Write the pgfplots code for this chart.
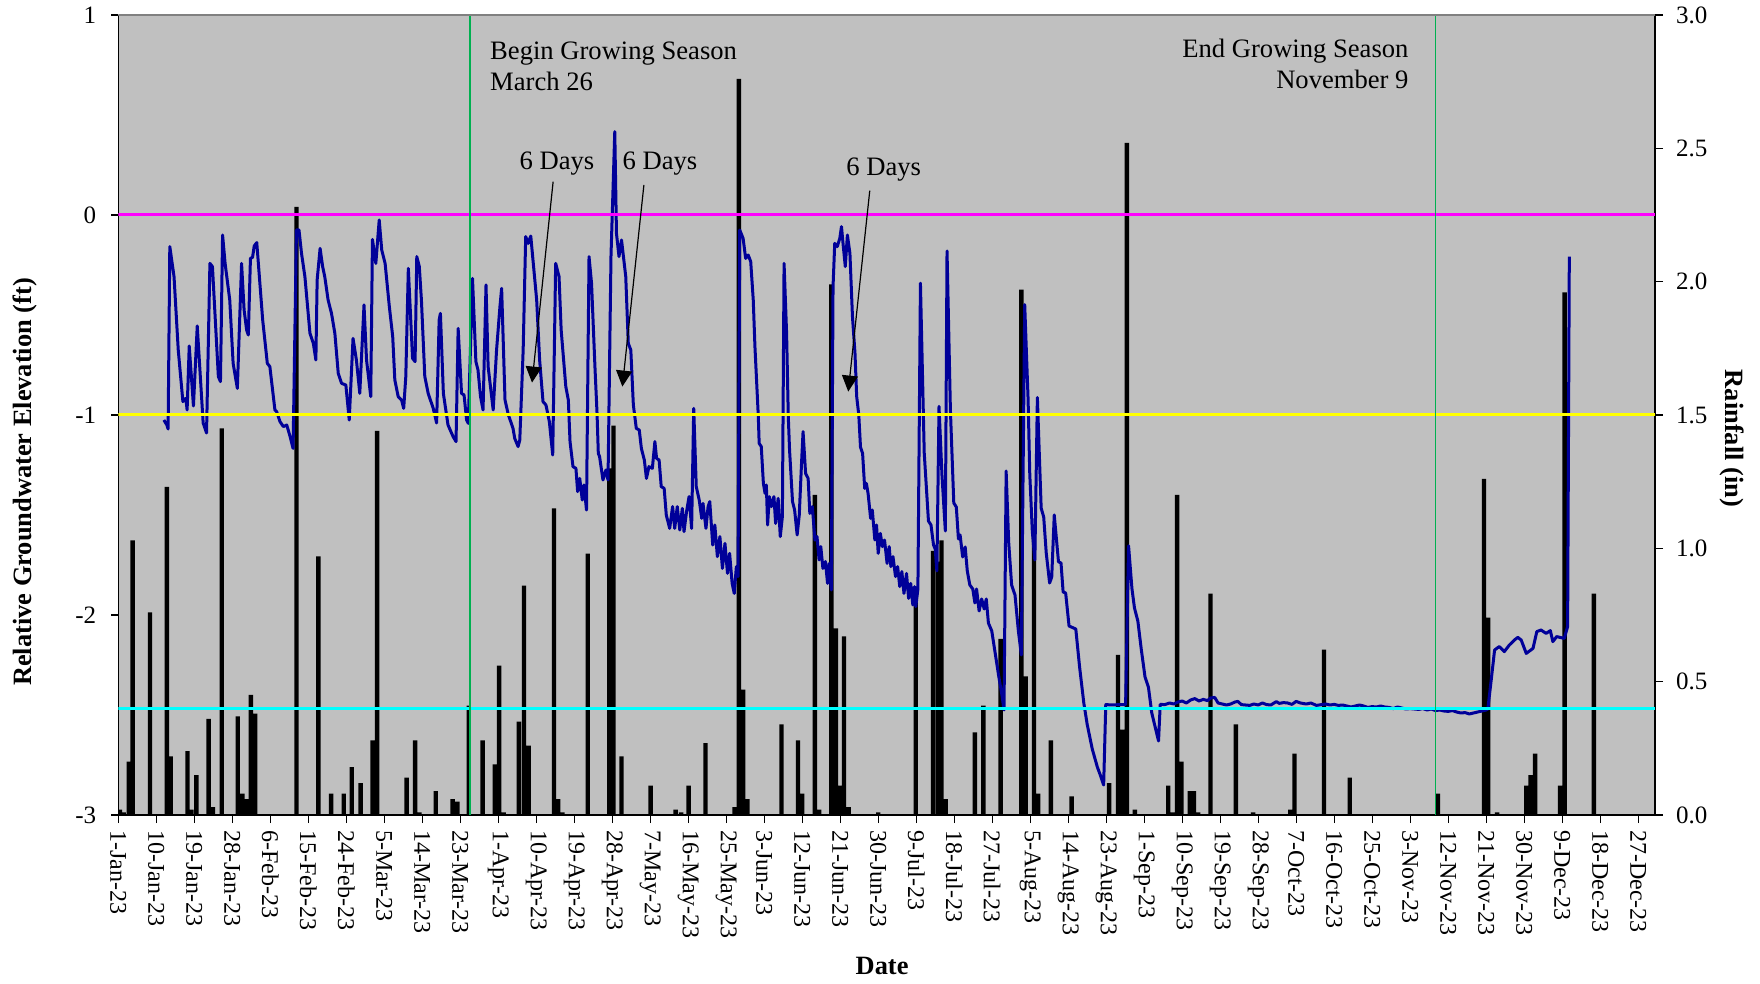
\documentclass[border=0pt]{standalone}
\usepackage{pgfplots}
\pgfplotsset{compat=1.18}
\usepackage{fontspec}
\setmainfont{Liberation Serif}
\usetikzlibrary{arrows.meta}
\definecolor{bggray}{RGB}{192,192,192}
\definecolor{framegray}{RGB}{128,128,128}
\definecolor{gwblue}{RGB}{0,0,153}
\definecolor{xlgreen}{RGB}{0,176,80}
\definecolor{refmag}{RGB}{255,0,255}
\definecolor{refyel}{RGB}{255,255,0}
\definecolor{refcya}{RGB}{0,255,255}
\begin{document}
\begin{tikzpicture}
\useasboundingbox (-59.15pt,-84.5pt) rectangle (820.85pt,407.5pt);
\pgfplotsset{
  every axis/.append style={
    scale only axis, width=768.35pt, height=400pt,
    xmin=0, xmax=364,
    /pgf/number format/assume math mode=true,
    tick align=outside,
    axis line style={black, line width=0.6pt},
    tick style={black, line width=0.6pt},
  }
}
% ---------------- rainfall (right axis) ----------------
\begin{axis}[
  axis background/.style={fill=bggray},
  axis x line*=bottom, axis y line*=right,
  ymin=0, ymax=3,
  ytick={0,0.5,1,1.5,2,2.5,3},
  yticklabel style={/pgf/number format/fixed, /pgf/number format/fixed zerofill, /pgf/number format/precision=1, font=\fontsize{12.5}{14}\selectfont, xshift=3pt},
  major tick length=4pt,
  xtick={0,9,...,360},
  xticklabels={1-Jan-23,10-Jan-23,19-Jan-23,28-Jan-23,6-Feb-23,15-Feb-23,24-Feb-23,5-Mar-23,14-Mar-23,23-Mar-23,1-Apr-23,10-Apr-23,19-Apr-23,28-Apr-23,7-May-23,16-May-23,25-May-23,3-Jun-23,12-Jun-23,21-Jun-23,30-Jun-23,9-Jul-23,18-Jul-23,27-Jul-23,5-Aug-23,14-Aug-23,23-Aug-23,1-Sep-23,10-Sep-23,19-Sep-23,28-Sep-23,7-Oct-23,16-Oct-23,25-Oct-23,3-Nov-23,12-Nov-23,21-Nov-23,30-Nov-23,9-Dec-23,18-Dec-23,27-Dec-23},
  xticklabel style={rotate=-90, anchor=west, font=\fontsize{12}{14}\selectfont},
]
\addplot[ybar, bar width=2.2pt, bar shift=0pt, fill=black, draw=none] coordinates {
(0.4,0.02)(1.3,0.01)(2.5,0.20)(3.4,1.03)(7.5,0.76)(11.5,1.23)(12.4,0.22)(16.4,0.24)(17.3,0.02)(18.5,0.15)
(21.4,0.36)(22.4,0.03)(24.5,1.45)(28.3,0.37)(29.4,0.08)(30.4,0.06)(31.4,0.45)(32.4,0.38)(42.2,2.28)(47.4,0.97)
(50.4,0.08)(53.4,0.08)(55.3,0.18)(57.4,0.12)(60.2,0.28)(61.3,1.44)(68.3,0.14)(70.3,0.28)(71.3,0.01)(75.2,0.09)
(79.2,0.06)(80.3,0.05)(83.0,0.41)(86.3,0.28)(89.2,0.19)(90.2,0.56)(91.3,0.01)(94.9,0.35)(96.1,0.86)(97.2,0.26)
(103.2,1.15)(104.2,0.06)(105.2,0.01)(111.2,0.98)(116.3,1.30)(117.3,1.46)(119.2,0.22)(126.1,0.11)(132.0,0.02)(133.3,0.01)
(135.1,0.11)(139.1,0.27)(146.0,0.03)(147.0,2.76)(148.0,0.47)(149.0,0.06)(157.1,0.34)(161.0,0.28)(162.0,0.08)(165.0,1.20)
(166.0,0.02)(168.9,1.99)(170.0,0.70)(171.0,0.11)(171.9,0.67)(173.0,0.03)(180.0,0.01)(188.9,0.82)(193.0,0.99)(194.2,0.95)
(195.0,1.03)(196.0,0.06)(202.9,0.31)(204.9,0.41)(209.0,0.66)(213.9,1.97)(214.9,0.52)(216.9,1.06)(217.9,0.08)(220.9,0.28)
(225.8,0.07)(234.7,0.12)(236.8,0.60)(237.8,0.32)(238.9,2.52)(240.8,0.02)(248.7,0.11)(249.7,0.01)(250.8,1.20)(251.8,0.20)
(253.8,0.09)(254.8,0.09)(255.8,0.01)(258.7,0.83)(264.7,0.34)(268.8,0.01)(277.6,0.02)(278.6,0.23)(285.6,0.62)(291.7,0.14)
(312.6,0.08)(323.5,1.26)(324.5,0.74)(326.6,0.01)(333.5,0.11)(334.5,0.15)(335.6,0.23)(341.5,0.11)(342.6,1.96)(349.5,0.83)
};
\end{axis}
% ---------------- groundwater (left axis) ----------------
\begin{axis}[
  axis x line=none, axis y line*=left,
  ymin=-3, ymax=1,
  ytick={-3,-2,-1,0,1},
  major tick length=3.5pt,
  yticklabel style={font=\fontsize{12.5}{14}\selectfont, xshift=-4pt},
]
\addplot[gwblue, line width=1.5pt, line join=round] coordinates {
(10.8,-1.025)(11.5,-1.05)(11.8,-1.07)(12.2,-0.158)(13.2,-0.308)(14.2,-0.675)(15.3,-0.933)(16.0,-0.917)(16.3,-0.975)(16.8,-0.655)
(17.8,-0.955)(18.7,-0.555)(20.1,-1.04)(20.9,-1.09)(21.7,-0.242)(22.3,-0.258)(23.7,-0.808)(24.2,-0.833)(24.7,-0.1)(25.3,-0.242)
(26.4,-0.425)(27.2,-0.742)(28.2,-0.867)(29.2,-0.242)(29.8,-0.475)(30.4,-0.575)(30.8,-0.6)(31.3,-0.217)(31.8,-0.212)(32.2,-0.155)
(32.8,-0.138)(34.2,-0.525)(35.3,-0.742)(35.9,-0.758)(37.1,-0.975)(37.5,-0.983)(38.3,-1.033)(39.1,-1.058)(39.9,-1.05)(40.7,-1.108)
(41.4,-1.167)(42.2,-0.075)(42.8,-0.075)(43.4,-0.192)(44.2,-0.308)(45.4,-0.592)(46.2,-0.642)(46.8,-0.725)(47.1,-0.325)(47.8,-0.167)
(48.4,-0.258)(48.9,-0.308)(49.7,-0.425)(50.5,-0.492)(51.3,-0.592)(52.1,-0.792)(52.9,-0.842)(53.9,-0.85)(54.7,-1.025)(55.6,-0.617)
(56.4,-0.725)(57.2,-0.892)(58.2,-0.45)(58.8,-0.725)(59.8,-0.908)(60.2,-0.122)(61.0,-0.242)(61.8,-0.025)(62.4,-0.175)(63.2,-0.242)
(64.2,-0.458)(65.0,-0.608)(65.5,-0.825)(66.3,-0.908)(67.1,-0.925)(67.6,-0.967)(68.1,-0.808)(68.7,-0.267)(69.7,-0.717)(70.3,-0.733)
(70.7,-0.208)(71.3,-0.258)(71.8,-0.425)(72.6,-0.808)(73.4,-0.892)(74.6,-0.967)(75.4,-1.04)(76.0,-0.525)(76.3,-0.492)(77.0,-0.892)
(78.1,-1.05)(79.3,-1.108)(80.0,-1.133)(80.5,-0.567)(81.3,-0.892)(81.9,-0.9)(82.5,-1.025)(82.9,-1.042)(83.9,-0.317)(84.7,-0.733)
(85.2,-0.775)(85.8,-0.908)(86.4,-0.975)(87.1,-0.35)(87.6,-0.758)(88.8,-0.975)(89.6,-0.675)(90.4,-0.458)(90.8,-0.367)(91.6,-0.925)
(92.4,-1.0)(93.1,-1.042)(93.5,-1.067)(93.9,-1.117)(94.7,-1.158)(95.1,-1.125)(95.9,-0.675)(96.5,-0.108)(97.1,-0.142)(97.7,-0.105)
(99.1,-0.425)(99.8,-0.725)(100.6,-0.933)(101.3,-0.95)(102.1,-1.033)(102.9,-1.2)(103.6,-0.242)(104.4,-0.308)(104.9,-0.575)(106.0,-0.858)
(106.6,-0.925)(107.0,-1.133)(107.7,-1.258)(108.4,-1.267)(108.8,-1.383)(109.3,-1.317)(109.9,-1.425)(110.3,-1.35)(110.9,-1.475)(111.5,-0.208)
(112.1,-0.342)(112.9,-0.758)(113.4,-0.992)(113.7,-1.192)(114.0,-1.208)(114.8,-1.325)(115.5,-1.275)(116.0,-1.325)(116.7,-0.208)(117.6,0.417)
(118.0,-0.092)(118.6,-0.208)(119.2,-0.125)(120.2,-0.308)(120.8,-0.642)(121.4,-0.675)(122.0,-0.95)(122.7,-1.067)(123.4,-1.075)(123.9,-1.167)
(124.6,-1.225)(125.1,-1.317)(125.7,-1.258)(126.5,-1.267)(127.1,-1.133)(127.5,-1.217)(128.1,-1.225)(128.6,-1.358)(129.3,-1.367)(129.8,-1.5)
(130.6,-1.567)(131.3,-1.458)(131.8,-1.567)(132.4,-1.458)(133.0,-1.575)(133.6,-1.467)(134.0,-1.583)(134.6,-1.483)(135.2,-1.408)(135.8,-1.567)
(136.3,-0.967)(136.9,-1.358)(137.6,-1.425)(138.2,-1.517)(138.5,-1.442)(139.2,-1.567)(139.7,-1.458)(140.1,-1.433)(140.8,-1.65)(141.3,-1.55)
(141.9,-1.708)(142.5,-1.608)(143.1,-1.767)(143.7,-1.642)(144.3,-1.792)(144.8,-1.692)(145.4,-1.842)(145.9,-1.892)(146.4,-1.758)(146.8,-1.808)
(147.2,-0.075)(148.0,-0.117)(148.6,-0.217)(149.2,-0.2)(149.8,-0.233)(150.4,-0.425)(150.8,-0.658)(151.6,-1.008)(151.8,-1.142)(152.3,-1.158)
(152.8,-1.342)(153.2,-1.392)(153.5,-1.35)(153.8,-1.55)(154.2,-1.408)(154.7,-1.458)(155.3,-1.408)(155.7,-1.542)(156.3,-1.417)(156.8,-1.608)
(157.3,-1.508)(157.7,-0.242)(158.3,-0.592)(158.7,-1.008)(159.0,-1.175)(159.7,-1.433)(160.2,-1.475)(160.8,-1.6)(161.3,-1.5)(161.8,-1.258)
(162.2,-1.083)(162.8,-1.292)(163.4,-1.317)(163.8,-1.492)(164.4,-1.458)(165.0,-1.625)(165.5,-1.608)(166.0,-1.725)(166.4,-1.658)(166.9,-1.767)
(167.5,-1.733)(168.0,-1.842)(168.4,-1.742)(168.9,-1.875)(169.3,-0.358)(169.7,-0.142)(170.3,-0.158)(170.9,-0.117)(171.3,-0.058)(171.7,-0.15)
(172.2,-0.258)(172.7,-0.1)(173.3,-0.192)(173.9,-0.508)(174.5,-0.692)(174.9,-0.908)(175.4,-1.0)(175.8,-1.16)(176.3,-1.192)(176.8,-1.367)
(177.2,-1.342)(177.6,-1.392)(178.2,-1.517)(178.6,-1.475)(179.2,-1.625)(179.6,-1.55)(180.0,-1.692)(180.5,-1.592)(181.0,-1.658)(181.5,-1.625)
(182.1,-1.742)(182.6,-1.658)(183.0,-1.758)(183.5,-1.708)(184.1,-1.808)(184.6,-1.758)(185.1,-1.858)(185.6,-1.783)(186.1,-1.892)(186.7,-1.792)
(187.2,-1.917)(187.7,-1.842)(188.2,-1.95)(188.6,-1.858)(188.9,-1.958)(189.4,-1.87)(190.0,-0.341)(190.9,-1.19)(191.9,-1.53)(192.5,-1.55)
(193.1,-1.65)(193.5,-1.67)(193.9,-1.78)(194.4,-0.957)(195.1,-1.30)(195.9,-1.58)(196.3,-0.18)(197.1,-0.975)(197.9,-1.44)(198.5,-1.46)
(199.0,-1.62)(199.4,-1.60)(200.0,-1.71)(200.6,-1.66)(201.1,-1.78)(201.7,-1.85)(202.4,-1.87)(202.9,-1.94)(203.3,-1.87)(203.9,-1.98)
(204.5,-1.92)(205.1,-1.97)(205.6,-1.92)(206.1,-2.04)(206.9,-2.08)(207.7,-2.19)(208.5,-2.30)(209.3,-2.40)(209.8,-2.475)(210.3,-1.28)
(210.9,-1.635)(211.6,-1.85)(212.4,-1.90)(213.2,-2.08)(213.9,-2.2)(214.7,-0.448)(215.5,-0.921)(215.9,-1.296)(216.5,-1.582)(217.1,-1.725)
(217.7,-0.913)(218.6,-1.466)(219.2,-1.51)(219.8,-1.69)(220.6,-1.84)(221.1,-1.81)(221.7,-1.50)(222.7,-1.734)(223.3,-1.74)(223.8,-1.885)
(224.4,-1.89)(225.2,-2.055)(226.8,-2.07)(227.7,-2.26)(228.7,-2.44)(229.5,-2.547)(230.7,-2.67)(231.9,-2.76)(232.6,-2.80)(233.4,-2.85)
(233.9,-2.448)(235.5,-2.45)(237.0,-2.448)(238.6,-2.448)(239.3,-1.654)(240.1,-1.868)(240.7,-1.965)(241.5,-2.03)(242.3,-2.17)(243.2,-2.31)
(244.0,-2.36)(244.8,-2.49)(245.6,-2.56)(246.4,-2.63)(246.8,-2.447)(247.9,-2.448)(249.0,-2.44)(250.0,-2.445)(251.0,-2.435)(252.0,-2.43)
(253.0,-2.44)(254.0,-2.425)(255.0,-2.418)(256.0,-2.43)(257.0,-2.422)(258.0,-2.428)(258.7,-2.415)(259.7,-2.412)(260.5,-2.44)(261.5,-2.445)
(262.5,-2.45)(263.5,-2.445)(264.5,-2.435)(265.2,-2.432)(266.0,-2.448)(267.0,-2.45)(268.0,-2.452)(269.0,-2.445)(270.0,-2.45)(271.0,-2.44)
(272.0,-2.448)(273.0,-2.45)(274.3,-2.433)(275.0,-2.442)(276.0,-2.438)(277.0,-2.44)(278.0,-2.447)(279.0,-2.432)(280.0,-2.44)(281.4,-2.445)
(282.5,-2.44)(283.8,-2.452)(285,-2.448)(286,-2.445)(287,-2.45)(288,-2.447)(289,-2.452)(290,-2.45)(291,-2.455)(292,-2.46)
(293,-2.455)(294,-2.45)(295,-2.455)(296,-2.462)(297,-2.458)(298,-2.46)(299,-2.455)(300,-2.46)(301,-2.462)(302,-2.468)
(303,-2.46)(304,-2.465)(305,-2.47)(306,-2.468)(307,-2.47)(308,-2.472)(309,-2.468)(310,-2.475)(311,-2.47)(312,-2.478)
(313,-2.475)(314,-2.48)(315,-2.482)(316,-2.478)(317,-2.485)(318,-2.49)(319,-2.488)(320,-2.495)(321,-2.49)(322,-2.485)
(323,-2.48)(324,-2.475)(324.4,-2.47)(325.2,-2.325)(326.0,-2.175)(327.1,-2.158)(328.3,-2.183)(329.5,-2.15)(330.7,-2.125)(331.5,-2.112)
(332.3,-2.125)(333.5,-2.192)(335.1,-2.167)(336.0,-2.083)(337.0,-2.075)(338.2,-2.092)(339.2,-2.078)(339.8,-2.133)(340.7,-2.108)(342.5,-2.117)
(343.3,-2.058)(343.7,-0.208)
};
% reference lines
\addplot[refmag, line width=1.5pt] coordinates {(0,0)(364,0)};
\addplot[refyel, line width=1.5pt] coordinates {(0,-1)(364,-1)};
\addplot[refcya, line width=1.5pt] coordinates {(0,-2.4667)(364,-2.4667)};
\addplot[xlgreen, line width=0.9pt] coordinates {(83.4,-3)(83.4,1)};
\addplot[xlgreen, line width=0.9pt] coordinates {(312.0,-3)(312.0,1)};
\draw[framegray, line width=0.9pt] (rel axis cs:0,1) -- (rel axis cs:1,1);
% annotations
\begin{scope}[every node/.style={inner sep=0pt, font=\fontsize{13.3}{15}\selectfont}]
\node[anchor=base west] at (axis cs:88.0,0.775) {Begin Growing Season};
\node[anchor=base west] at (axis cs:88.0,0.6215) {March 26};
\node[anchor=base east] at (axis cs:305.7,0.788) {End Growing Season};
\node[anchor=base east] at (axis cs:305.7,0.633) {November 9};
\node[anchor=base] at (axis cs:103.9,0.225) {6 Days};
\node[anchor=base] at (axis cs:128.3,0.225) {6 Days};
\node[anchor=base] at (axis cs:181.3,0.195) {6 Days};
\end{scope}
\draw[-{Triangle[width=8pt,length=8pt]}, line width=0.6pt] (axis cs:103.0,0.167) -- (axis cs:98.0,-0.838);
\draw[-{Triangle[width=8pt,length=8pt]}, line width=0.6pt] (axis cs:124.5,0.15) -- (axis cs:119.4,-0.858);
\draw[-{Triangle[width=8pt,length=8pt]}, line width=0.6pt] (axis cs:178.0,0.122) -- (axis cs:172.9,-0.883);
\end{axis}
% axis titles
\node[rotate=90, font=\bfseries\fontsize{13.2}{15}\selectfont] at (-46.8pt,166.5pt) {Relative Groundwater Elevation (ft)};
\node[rotate=-90, font=\bfseries\fontsize{13.2}{15}\selectfont] at (806.7pt,188.3pt) {Rainfall (in)};
\node[font=\bfseries\fontsize{13.2}{15}\selectfont] at (381.9pt,-75.5pt) {Date};
\end{tikzpicture}
\end{document}
